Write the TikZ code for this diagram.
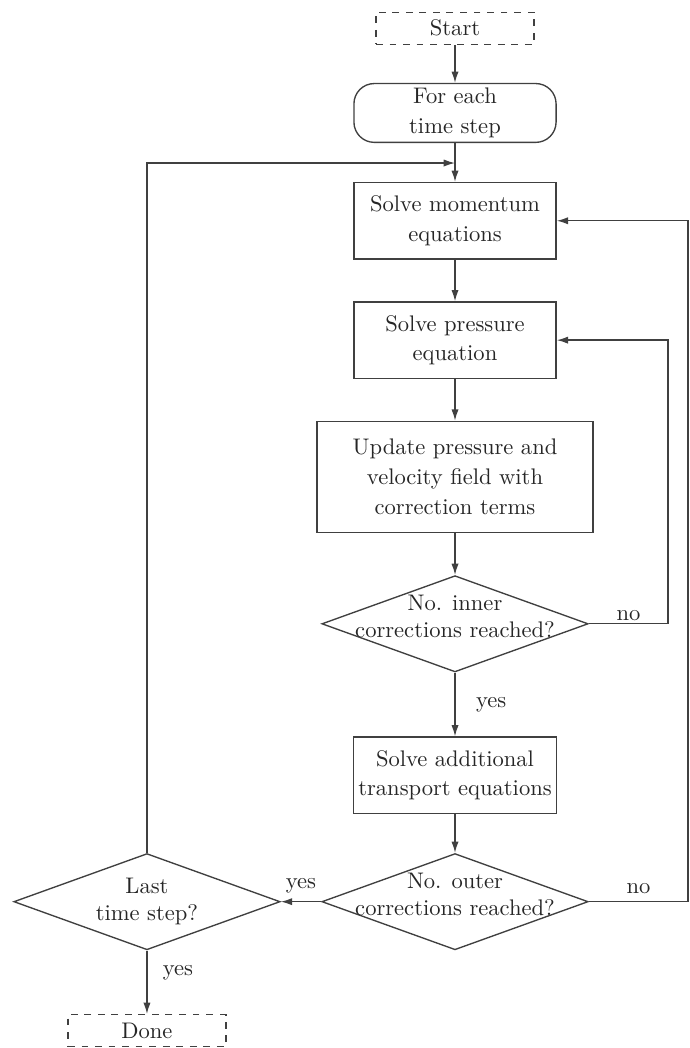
\documentclass[tikz,border=0pt]{standalone}
\usepackage{xcolor}
\definecolor{lineGray}{gray}{0.25}
\definecolor{textGray}{gray}{0.15}
\usepackage{tikz}
\usetikzlibrary{shapes.geometric,arrows.meta}

\begin{document}
\begin{tikzpicture}[>={Latex[length=5pt,width=3.2pt]},
    box/.style={draw=lineGray, line width=0.6pt, align=center, inner sep=2pt,
      text=textGray, font=\linespread{1.1}\selectfont},
    termbox/.style={box, dashed, minimum width=2.46cm, minimum height=0.5cm},
    loopbox/.style={box, rounded corners=9pt, minimum width=3.15cm, minimum height=0.89cm},
    stepbox/.style={box, minimum width=3.15cm, minimum height=1.19cm},
    decision/.style={diamond, draw=lineGray, line width=0.6pt, inner sep=0pt,
      minimum width=4.15cm, minimum height=1.5cm},
    asktext/.style={align=center, text=textGray, inner sep=0pt},
    flow/.style={->, draw=lineGray, line width=0.6pt},
    answer/.style={text=textGray}]
  \useasboundingbox (0,0) rectangle (10.75,-16.33);
  % ---- main column ----
  \node[termbox] (start) at (7.09,-0.44) {Start};
  \node[loopbox] (foreach) at (7.09,-1.76) {For each\\time step};
  \node[stepbox] (momentum) at (7.09,-3.44) {Solve momentum\\equations};
  \node[stepbox] (pressure) at (7.09,-5.30) {Solve pressure\\equation};
  \node[stepbox, minimum width=4.3cm, minimum height=1.73cm] (update) at (7.09,-7.43)
    {Update pressure and\\velocity field with\\correction terms};
  \node[decision] (innerchk) at (7.09,-9.72) {};
  \node[asktext, yshift=0.12cm] (innertext) at (innerchk) {No. inner\\corrections reached?};
  \node[stepbox, minimum width=3.05cm] (transport) at (7.09,-12.08)
    {Solve additional\\transport equations};
  \node[decision] (outerchk) at (7.09,-14.05) {};
  \node[asktext, yshift=0.11cm] (outertext) at (outerchk) {No. outer\\corrections reached?};
  % ---- time loop on the left ----
  \node[decision] (lastchk) at (2.29,-14.05) {};
  \node[asktext] (lasttext) at (lastchk) {Last\\time step?};
  \node[termbox] (done) at (2.29,-16.06) {Done};
  % ---- bends of the loops ----
  \coordinate (loopjoin) at (7.09,-2.54);
  \coordinate (innerright) at (10.41,-5.30);
  \coordinate (outerright) at (10.72,-3.44);
  % ---- connectors ----
  \draw[flow] (start) -- (foreach);
  \draw[flow] (foreach) -- (momentum);
  \draw[flow] (lastchk.north) |- (loopjoin);
  \draw[flow] (momentum) -- (pressure);
  \draw[flow] (pressure) -- (update);
  \draw[flow] (update) -- (innerchk);
  \draw[flow] (innerchk.east) -| node[pos=0.25, above, inner sep=1pt, answer] (innerno) {no}
    (innerright) -- (pressure.east);
  \draw[flow] (innerchk) -- node[right=0.2cm, answer] (inneryes) {yes} (transport);
  \draw[flow] (transport) -- (outerchk);
  \draw[flow] (outerchk) -- node[above, answer] (outeryes) {yes} (lastchk);
  \draw[flow] (outerchk.east) -| node[pos=0.25, above, answer] (outerno) {no} (outerright)
    -- (momentum.east);
  \draw[flow] (lastchk) -- node[pos=0.35, right=0.12cm, answer] (lastyes) {yes} (done);
\end{tikzpicture}
\end{document}
